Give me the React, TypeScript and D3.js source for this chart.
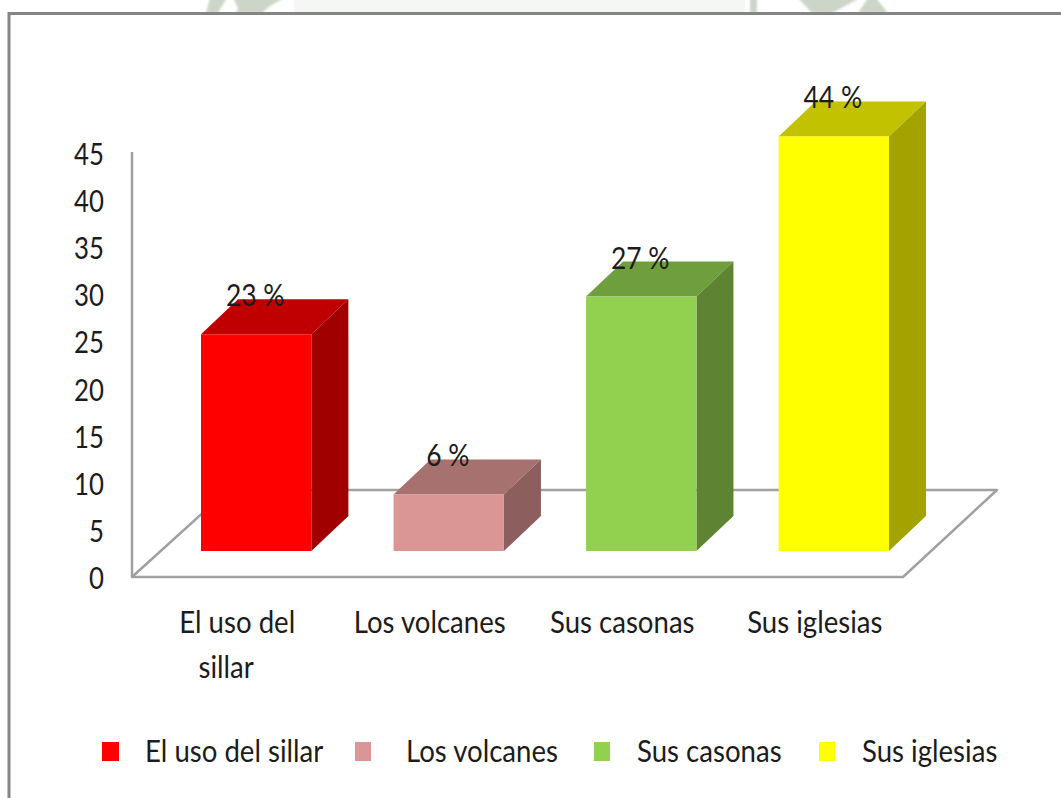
import React from "react";
import * as d3 from "d3";

const categories = ["El uso del sillar", "Los volcanes", "Sus casonas", "Sus iglesias"];
const axisLabelLines = [["El uso del", "sillar"], ["Los volcanes"], ["Sus casonas"], ["Sus iglesias"]];
const values = [23, 6, 27, 44];
const dataLabels = ["23 %", "6 %", "27 %", "44 %"];
const frontColors = ["#ff0000", "#d99694", "#92d050", "#ffff00"];
const topColors = ["#c00000", "#a6716f", "#6f9e3d", "#c2c200"];
const sideColors = ["#a00000", "#8c5f5e", "#5e8433", "#a3a300"];
const yTicks = [0, 5, 10, 15, 20, 25, 30, 35, 40, 45];
const legendTextX = [145, 406, 637, 862];
const legendSwatchX = [102, 355, 594, 819];

const W = 1061, H = 798;
const depthX = 37, depthY = 35;
const baseY = 551;
const FONT = "Lato, 'Open Sans', sans-serif";

const x = d3.scaleBand<string>().domain(categories).range([201, 889]).paddingInner(0.4266).paddingOuter(0);
const h = d3.scaleLinear().domain([0, 45]).range([0, 424]);
const axisY = (v: number) => 577 - h(v);

function Label({ x: tx, y, anchor = "middle", squeeze = 0.92, children }: any) {
  return (
    <text transform={`translate(${tx},${y}) scale(${squeeze},1)`} textAnchor={anchor} fontFamily={FONT} fontSize={30} fill="#1c1c1c">
      {children}
    </text>
  );
}

export default function App() {
  const bw = x.bandwidth();
  return (
    <svg width={W} height={H} viewBox={`0 0 ${W} ${H}`} style={{ position: "absolute", left: 0, top: 0, background: "#fff" }}>
      {/* faint background of the page behind the chart */}
      <defs>
        <filter id="soft"><feGaussianBlur stdDeviation="1" /></filter>
      </defs>
      <rect x={294} y={0} width={451} height={13} fill="#f5f7f5" />
      <g fill="#cdd5c8" filter="url(#soft)">
        <polygon points="210,-2 227,-2 218,13 206,13" />
        <polygon points="233,-2 284,-2 270,6 262,13 236,13 238,8" />
        <polygon points="750,-2 757,-2 757,13 750,13" />
        <polygon points="798,-2 860,-2 832,13 812,13" />
        <polygon points="868,-2 876,-2 888,13 858,13" />
      </g>

      {/* chart frame */}
      <rect x={9} y={13.5} width={1080} height={820} fill="#fff" stroke="#858585" strokeWidth={3} />

      {/* walls and floor */}
      <path d="M132,152 V577 H903 L997,490 H228 L132,577" fill="none" stroke="#a0a0a0" strokeWidth={2.5} strokeLinejoin="round" />

      {yTicks.map((t) => (
        <Label key={t} x={104} y={axisY(t) + 12} anchor="end" squeeze={0.86}>{t}</Label>
      ))}

      {categories.map((c, i) => {
        const x0 = x(c)!;
        const x1 = x0 + bw;
        const top = baseY - h(values[i]);
        return (
          <g key={c}>
            <polygon points={`${x0},${top} ${x1},${top} ${x1 + depthX},${top - depthY} ${x0 + depthX},${top - depthY}`} fill={topColors[i]} />
            <polygon points={`${x1},${top} ${x1 + depthX},${top - depthY} ${x1 + depthX},${baseY - depthY} ${x1},${baseY}`} fill={sideColors[i]} />
            <rect x={x0} y={top} width={bw} height={baseY - top} fill={frontColors[i]} />
          </g>
        );
      })}

      {categories.map((c, i) => (
        <Label key={c} x={x(c)! + bw / 2 - 1} y={baseY - h(values[i]) - 28} squeeze={0.88}>{dataLabels[i]}</Label>
      ))}

      {categories.map((c, i) => (
        <g key={c}>
          {axisLabelLines[i].map((line, j) => (
            <Label key={line} x={x(c)! + bw / 2 - 19 - (j === 1 ? 11 : 0)} y={633 + j * 45}>{line}</Label>
          ))}
        </g>
      ))}

      {categories.map((c, i) => (
        <g key={c}>
          <rect x={legendSwatchX[i]} y={742} width={i === 0 ? 17 : 16} height={19} fill={frontColors[i]} />
          <Label x={legendTextX[i]} y={762} anchor="start">{c}</Label>
        </g>
      ))}
    </svg>
  );
}
